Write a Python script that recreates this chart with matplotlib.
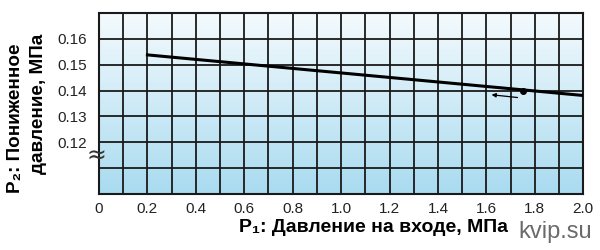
import numpy as np
import matplotlib.pyplot as plt
from matplotlib.colors import LinearSegmentedColormap

plt.rcParams['font.family'] = ['Liberation Sans', 'DejaVu Sans']

# P1 inlet pressure (MPa) vs P2 reduced pressure (MPa)
p1 = [0.2, 2.0]
p2 = [0.1538, 0.1381]
point_x = [1.75]
point_y = [0.1400]
arrow_from = (1.74, 0.1372)
arrow_to = (1.61, 0.1385)

xticks = np.arange(0, 2.01, 0.2)
yticks = [0.12, 0.13, 0.14, 0.15, 0.16]

fig = plt.figure(figsize=(6, 2.5), dpi=100)
ax = fig.add_axes([0.165, 0.224, 0.807, 0.724])

# background gradient, light at top -> blue at bottom
grad = np.linspace(0, 1, 256).reshape(-1, 1)
cmap = LinearSegmentedColormap.from_list('bg', ['#f4fafd', '#a9dbf0'])
ax.imshow(grad, aspect='auto', cmap=cmap, extent=[0, 2.0, 0.10, 0.17],
          origin='upper', zorder=0)

ax.set_xlim(0, 2.0)
ax.set_ylim(0.10, 0.17)

for x in np.arange(0.1, 2.0, 0.1):
    ax.axvline(x, color='#1a1a1a', lw=1.3, zorder=1)
for y in np.arange(0.11, 0.17, 0.01):
    ax.axhline(y, color='#1a1a1a', lw=1.3, zorder=1)

ax.plot(p1, p2, color='black', lw=2.2, zorder=3)
ax.plot(point_x, point_y, 'o', color='black', ms=4, zorder=4)
ax.annotate('', xy=arrow_to, xytext=arrow_from,
            arrowprops=dict(arrowstyle='-|>', color='black', lw=0.9,
                            mutation_scale=6), zorder=4)

for s in ax.spines.values():
    s.set_color('#1a1a1a')
    s.set_linewidth(1.5)

ax.set_xticks(xticks)
ax.set_xticklabels([('0' if v == 0 else f'{v:.1f}') for v in xticks])
ax.set_yticks(yticks)
ax.set_yticklabels([f'{v:.2f}' for v in yticks])
ax.tick_params(length=0, labelsize=11, colors='#222222')
ax.tick_params(axis='y', pad=9)
ax.tick_params(axis='x', pad=6)

ax.text(-0.01, 0.1148, '≈', ha='center', va='center', family='DejaVu Sans',
        fontsize=17, color='#333333', clip_on=False, zorder=5)

fig.text(0.622, 0.088, 'P₁: Давление на входе, МПа', ha='center',
         va='center', fontsize=14, fontweight='bold')
fig.text(0.026, 1 - 118 / 250, 'P₂: Пониженное', rotation=90,
         ha='center', va='center', fontsize=13.6, fontweight='bold')
fig.text(0.064, 1 - 104 / 250, 'давление, МПа', rotation=90,
         ha='center', va='center', fontsize=13.6, fontweight='bold')

fig.text(0.987, 0.072, 'kvip.su', ha='right', va='center', fontsize=17,
         color='#6a6a6a')

fig.savefig('out.png', dpi=100)
